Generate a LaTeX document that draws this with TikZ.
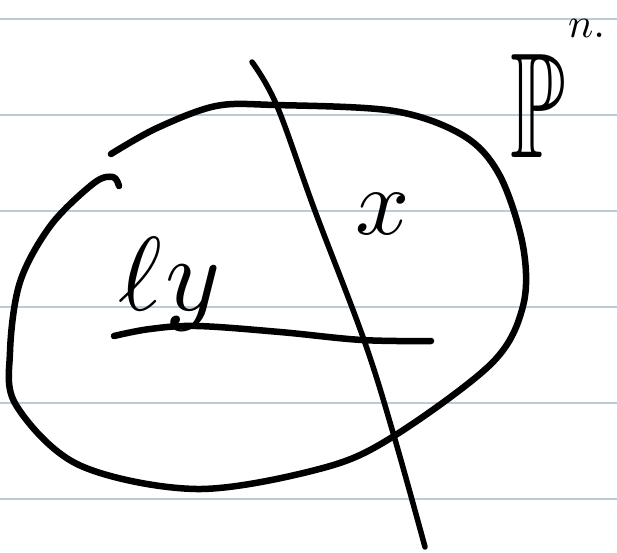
\documentclass[tikz,border=0pt]{standalone}
\usepackage{amssymb}
\usepackage{tikz}
\usetikzlibrary{positioning}
\DeclareFontShape{OML}{cmm}{m}{it}{<->cmmi10}{}
\definecolor{Rule}{HTML}{BCCAD9}
\definecolor{Ink}{HTML}{000000}

\begin{document}
\begin{tikzpicture}[x=1pt,y=-1pt,
      ink/.style={draw=Ink,line width=6.5pt,line cap=round,line join=round},
      ruling/.style={draw=Rule,line width=2pt},
      hand/.style={inner sep=0pt,text=Ink}]
  \useasboundingbox[fill=white] (0,0) rectangle (617,552);
  % notebook rulings
  \foreach \y in {19,115,211,307,403,499}
    \draw[ruling] (0,\y) -- (617,\y);
  % the variety
  \draw[ink] plot[smooth,tension=0.55] coordinates {
      (111,154) (157,128) (216,106) (275,105) (394,111) (464,136)
      (500,176) (523,246) (523,306) (492,363) (394,436) (323,468)
      (197,489) (79,465) (16,405) (10,352) (20,282) (51,225)
      (94,183) (113,177) (119,186)};
  % the transversal
  \coordinate (ttop) at (252,62);
  \coordinate (tbot) at (425,547);
  \draw[ink,line width=5.5pt] plot[smooth,tension=0.6] coordinates {
      (ttop) (277,106) (315,211) (364,340) (394,436) (tbot)};
  % the line l_y
  \coordinate (lwest) at (114,336);
  \coordinate (least) at (431,341);
  \draw[ink] plot[smooth,tension=0.6] coordinates {
      (lwest) (150,329) (197,326) (280,332) (362,340) (least)};
  % labels
  \node[hand,anchor=base west,font=\fontsize{105}{105}\selectfont] (ly) at (118,310) {$\ell\,y$};
  \node[hand,anchor=base,font=\fontsize{95}{95}\selectfont] (xpt) at (383,234) {$x$};
  \node[hand,anchor=base,xscale=0.6,transform shape,
        font=\fontsize{150}{150}\selectfont] (pspace) at (538,157) {$\mathbb{P}$};
  \node[hand,anchor=base west,font=\fontsize{42}{42}\selectfont] (pexp) at (568,37) {$n.$};
\end{tikzpicture}
\end{document}
